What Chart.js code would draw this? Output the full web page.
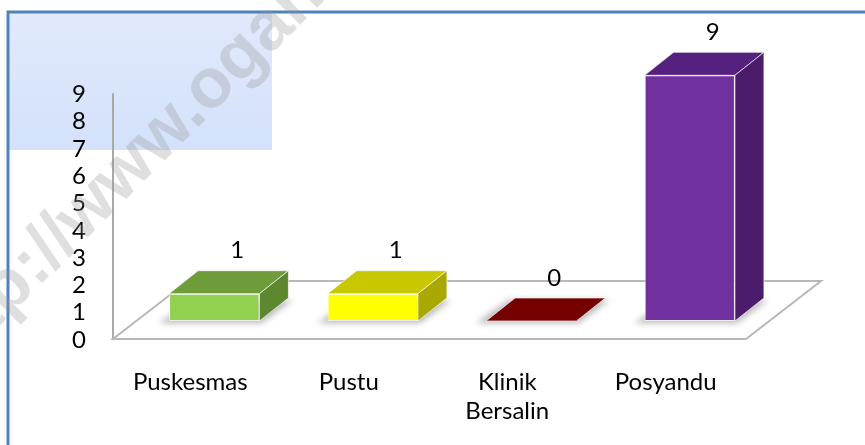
<!DOCTYPE html>
<html>
<head>
<meta charset="utf-8">
<script src="https://cdn.jsdelivr.net/npm/chart.js@4.4.0/dist/chart.umd.min.js"></script>
<style>
  body { margin: 0; background: #fff; }
</style>
</head>
<body>
<canvas id="chart" width="865" height="445"></canvas>
<script>
const categories = ['Puskesmas', 'Pustu', ['Klinik', 'Bersalin'], 'Posyandu'];
const counts = [1, 1, 0, 9];
const yTicks = [0, 1, 2, 3, 4, 5, 6, 7, 8, 9];

const frontColors = ['#92d050', '#ffff00', '#7a0000', '#7030a0'];
const topColors = ['#6e9c3b', '#c8c800', '#750000', '#55217f'];
const sideColors = ['#5d8830', '#a8a800', '#600000', '#4a1c69'];

// fake 3d depth of the boxes
const DX = 29, DY = -23;
const FONT = 'Lato, "DejaVu Sans", sans-serif';

function quad(ctx, pts, fill, stroke) {
    ctx.beginPath();
    ctx.moveTo(pts[0][0], pts[0][1]);
    for (let i = 1; i < pts.length; i++) ctx.lineTo(pts[i][0], pts[i][1]);
    ctx.closePath();
    if (fill) { ctx.fillStyle = fill; ctx.fill(); }
    if (stroke) { ctx.strokeStyle = stroke; ctx.stroke(); }
}

const backdrop = {
    id: 'backdrop',
    beforeDraw(chart) {
        const ctx = chart.ctx;
        ctx.save();
        const g = ctx.createLinearGradient(0, 13, 0, 150);
        g.addColorStop(0, '#e1eafc');
        g.addColorStop(1, '#d3e1fa');
        ctx.fillStyle = g;
        ctx.fillRect(9, 13, 263, 137);
        ctx.strokeStyle = '#4f81bd';
        ctx.lineWidth = 3;
        ctx.beginPath();
        ctx.moveTo(8, 445);
        ctx.lineTo(8, 12);
        ctx.lineTo(865, 12);
        ctx.stroke();
        ctx.restore();
    }
};

const floor = {
    id: 'floor',
    beforeDatasetsDraw(chart) {
        const { ctx, chartArea: a, scales: { y } } = chart;
        const base = y.getPixelForValue(0);
        const fy = base + 18, by = base - 40;
        ctx.save();
        ctx.lineWidth = 2;
        ctx.strokeStyle = '#a9a9a9';
        ctx.beginPath();
        ctx.moveTo(a.left - 22, y.getPixelForValue(yTicks[yTicks.length - 1]) + 18);
        ctx.lineTo(a.left - 22, fy);
        ctx.stroke();
        quad(ctx, [[a.left - 22, fy], [a.right - 23, fy], [a.right + 52, by], [a.left + 53, by]], '#ffffff', '#b8b8b8');

        // soft shadows under the boxes
        const meta = chart.getDatasetMeta(0);
        ctx.filter = 'blur(3px)';
        meta.data.forEach(bar => {
            const l = bar.x - bar.width / 2, r = bar.x + bar.width / 2;
            quad(ctx, [[l - 10, base + 2], [r + 2, base + 2], [r + DX + 4, base + DY + 2], [l + DX - 6, base + DY + 2]], 'rgba(0,0,0,0.28)');
        });
        ctx.restore();
    },
    afterDatasetsDraw(chart) {
        const { ctx } = chart;
        const meta = chart.getDatasetMeta(0);
        ctx.save();
        ctx.lineWidth = 1;
        meta.data.forEach((bar, i) => {
            const l = bar.x - bar.width / 2, r = bar.x + bar.width / 2;
            const t = bar.y, b = bar.base;
            const edge = 'rgba(255,255,255,0.65)';
            quad(ctx, [[l, t], [l + DX, t + DY], [r + DX, t + DY], [r, t]], topColors[i], edge);
            if (counts[i] > 0) {
                quad(ctx, [[r, t], [r + DX, t + DY], [r + DX, b + DY], [r, b]], sideColors[i], edge);
            }
            ctx.fillStyle = '#000';
            ctx.font = '24px ' + FONT;
            ctx.textAlign = 'center';
            ctx.textBaseline = 'middle';
            ctx.fillText(counts[i], bar.x + 23, t - 43);
        });
        ctx.restore();
    }
};

const watermark = {
    id: 'watermark',
    afterDraw(chart) {
        const ctx = chart.ctx;
        ctx.save();
        ctx.font = 'bold 70px "Liberation Sans", Arial, sans-serif';
        const lead = ctx.measureText('htt').width - 10;
        const d = lead / Math.SQRT2;
        ctx.translate(0 - d, 325 + d);
        ctx.rotate(-Math.PI / 4);
        ctx.fillStyle = 'rgba(150,150,150,0.3)';
        ctx.textBaseline = 'alphabetic';
        ctx.fillText('http://www.ogan', 0, 0);
        ctx.restore();
    }
};

new Chart(document.getElementById('chart').getContext('2d'), {
    type: 'bar',
    data: {
        labels: categories,
        datasets: [{
            data: counts,
            backgroundColor: frontColors,
            borderColor: 'rgba(255,255,255,0.65)',
            borderWidth: ctx => counts[ctx.dataIndex] > 0 ? 1 : 0,
            borderSkipped: false,
            barPercentage: 0.57,
            categoryPercentage: 1
        }]
    },
    options: {
        responsive: false,
        animation: false,
        layout: { padding: { top: 48, right: 96, left: 72, bottom: 0 } },
        plugins: { legend: { display: false }, tooltip: { enabled: false } },
        scales: {
            x: {
                grid: { display: false, drawTicks: false },
                border: { display: false },
                afterFit: s => { s.height = 124; },
                ticks: {
                    color: '#000',
                    font: { family: FONT, size: 24, lineHeight: 1.2 },
                    padding: 47,
                    labelOffset: -24,
                    maxRotation: 0
                }
            },
            y: {
                min: 0,
                max: 10,
                grid: { display: false, drawTicks: false },
                border: { display: false },
                afterFit: s => { s.width = 63; },
                afterBuildTicks: s => { s.ticks = yTicks.map(v => ({ value: v })); },
                ticks: {
                    color: '#000',
                    font: { family: FONT, size: 24 },
                    padding: 0,
                    crossAlign: 'far',
                    labelOffset: 19,
                    autoSkip: false
                }
            }
        }
    },
    plugins: [backdrop, floor, watermark]
});
</script>
</body>
</html>
